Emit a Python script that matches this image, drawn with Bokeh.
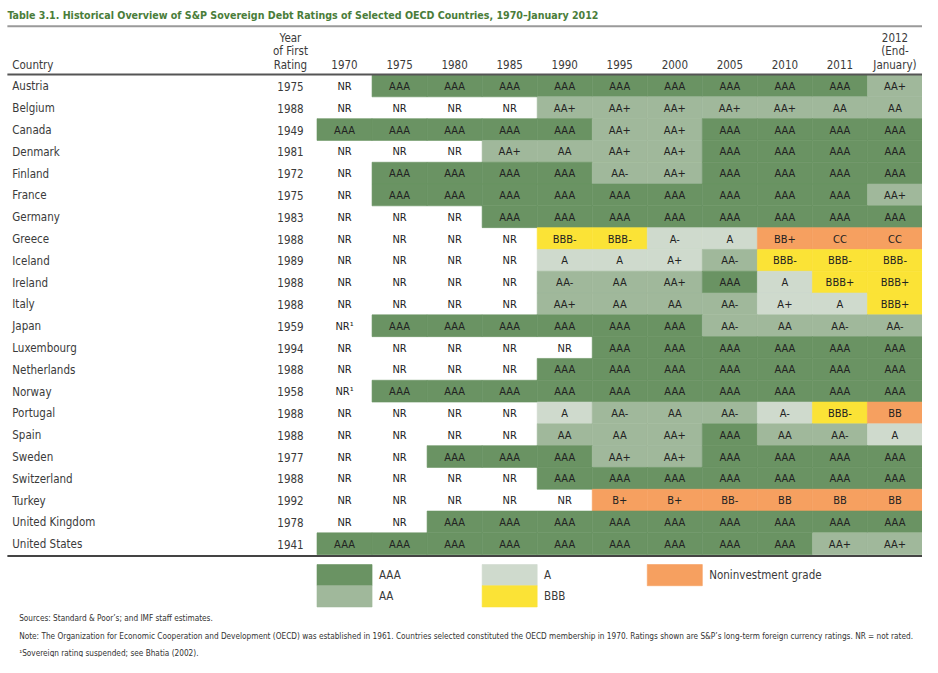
from bokeh.plotting import figure
from bokeh.models import Range1d
from bokeh.embed import file_html
from bokeh.resources import INLINE
from bokeh.core.properties import value

# ---------------- data ----------------
title = "Table 3.1. Historical Overview of S&P Sovereign Debt Ratings of Selected OECD Countries, 1970\u2013January 2012"
years = ["1970", "1975", "1980", "1985", "1990", "1995", "2000", "2005", "2010", "2011"]
countries = ["Austria", "Belgium", "Canada", "Denmark", "Finland", "France", "Germany",
             "Greece", "Iceland", "Ireland", "Italy", "Japan", "Luxembourg", "Netherlands",
             "Norway", "Portugal", "Spain", "Sweden", "Switzerland", "Turkey",
             "United Kingdom", "United States"]
first_rating = ["1975", "1988", "1949", "1981", "1972", "1975", "1983", "1988", "1989", "1988",
                "1988", "1959", "1994", "1988", "1958", "1988", "1988", "1977", "1988", "1992",
                "1978", "1941"]
ratings = [
    ["NR", "AAA", "AAA", "AAA", "AAA", "AAA", "AAA", "AAA", "AAA", "AAA", "AA+"],
    ["NR", "NR", "NR", "NR", "AA+", "AA+", "AA+", "AA+", "AA+", "AA", "AA"],
    ["AAA", "AAA", "AAA", "AAA", "AAA", "AA+", "AA+", "AAA", "AAA", "AAA", "AAA"],
    ["NR", "NR", "NR", "AA+", "AA", "AA+", "AA+", "AAA", "AAA", "AAA", "AAA"],
    ["NR", "AAA", "AAA", "AAA", "AAA", "AA-", "AA+", "AAA", "AAA", "AAA", "AAA"],
    ["NR", "AAA", "AAA", "AAA", "AAA", "AAA", "AAA", "AAA", "AAA", "AAA", "AA+"],
    ["NR", "NR", "NR", "AAA", "AAA", "AAA", "AAA", "AAA", "AAA", "AAA", "AAA"],
    ["NR", "NR", "NR", "NR", "BBB-", "BBB-", "A-", "A", "BB+", "CC", "CC"],
    ["NR", "NR", "NR", "NR", "A", "A", "A+", "AA-", "BBB-", "BBB-", "BBB-"],
    ["NR", "NR", "NR", "NR", "AA-", "AA", "AA+", "AAA", "A", "BBB+", "BBB+"],
    ["NR", "NR", "NR", "NR", "AA+", "AA", "AA", "AA-", "A+", "A", "BBB+"],
    ["NR\u00b9", "AAA", "AAA", "AAA", "AAA", "AAA", "AAA", "AA-", "AA", "AA-", "AA-"],
    ["NR", "NR", "NR", "NR", "NR", "AAA", "AAA", "AAA", "AAA", "AAA", "AAA"],
    ["NR", "NR", "NR", "NR", "AAA", "AAA", "AAA", "AAA", "AAA", "AAA", "AAA"],
    ["NR\u00b9", "AAA", "AAA", "AAA", "AAA", "AAA", "AAA", "AAA", "AAA", "AAA", "AAA"],
    ["NR", "NR", "NR", "NR", "A", "AA-", "AA", "AA-", "A-", "BBB-", "BB"],
    ["NR", "NR", "NR", "NR", "AA", "AA", "AA+", "AAA", "AA", "AA-", "A"],
    ["NR", "NR", "AAA", "AAA", "AAA", "AA+", "AA+", "AAA", "AAA", "AAA", "AAA"],
    ["NR", "NR", "NR", "NR", "AAA", "AAA", "AAA", "AAA", "AAA", "AAA", "AAA"],
    ["NR", "NR", "NR", "NR", "NR", "B+", "B+", "BB-", "BB", "BB", "BB"],
    ["NR", "NR", "AAA", "AAA", "AAA", "AAA", "AAA", "AAA", "AAA", "AAA", "AAA"],
    ["AAA", "AAA", "AAA", "AAA", "AAA", "AAA", "AAA", "AAA", "AAA", "AA+", "AA+"],
]
legend_labels = ["AAA", "AA", "A", "BBB", "Noninvestment grade"]
footnotes = [
    "Sources: Standard & Poor\u2019s; and IMF staff estimates.",
    "Note: The Organization for Economic Cooperation and Development (OECD) was established in 1961. Countries selected constituted the OECD membership in 1970. Ratings shown are S&P\u2019s long-term foreign currency ratings. NR = not rated.",
    "\u00b9Sovereign rating suspended; see Bhatia (2002).",
]

# ---------------- style ----------------
COLORS = {"AAA": "#6a9363", "AA": "#a0b89b", "A": "#cfdacd", "BBB": "#fbe336", "NI": "#f6a060"}
FONT = value("DejaVu Sans Condensed, Roboto")
TXT = "#3a3a3a"
COL0, COLW = 350.0, 56.0       # centre of first rating column, column width
ROW0, ROWH = 86.6, 22.1        # centre of first row, row height


def category(r):
    if r.startswith("NR"):
        return None
    if r.startswith("AAA"):
        return "AAA"
    if r.startswith("AA"):
        return "AA"
    if r.startswith("A"):
        return "A"
    if r.startswith("BBB"):
        return "BBB"
    return "NI"


p = figure(width=922, height=657, x_range=Range1d(0, 938), y_range=Range1d(666, 0),
           output_backend="svg", toolbar_location=None, min_border=0)
p.axis.visible = False
p.grid.visible = False
p.outline_line_color = None
p.background_fill_color = "white"

# cells
cl, cr, ct, cb, cc = [], [], [], [], []
tx, ty, tt = [], [], []
for i, row in enumerate(ratings):
    yc = ROW0 + i * ROWH
    for j, r in enumerate(row):
        xc = COL0 + j * COLW
        tx.append(xc); ty.append(yc + 0.5); tt.append(r)
        c = category(r)
        if c:
            cl.append(xc - COLW / 2); cr.append(xc + COLW / 2)
            ct.append(yc - ROWH / 2); cb.append(yc + ROWH / 2)
            cc.append(COLORS[c])
p.quad(left=cl, right=cr, top=ct, bottom=cb, fill_color=cc, line_color=cc, line_width=0.6)
p.text(x=tx, y=ty, text=tt, text_font=FONT, text_font_size="11px", text_color="#222222",
       text_align="center", text_baseline="middle")

# country names and first-rating years
ys = [ROW0 + i * ROWH + 0.5 for i in range(len(countries))]
p.text(x=[12] * len(countries), y=ys, text=countries, text_font=FONT, text_font_size="11.5px",
       text_color=TXT, text_align="left", text_baseline="middle")
p.text(x=[295] * len(countries), y=ys, text=first_rating, text_font=FONT, text_font_size="11.5px",
       text_color=TXT, text_align="center", text_baseline="middle")

# header
p.text(x=[7], y=[15], text=[title], text_font=FONT, text_font_size="10.6px", text_font_style="bold",
       text_color="#4a7d3a", text_align="left", text_baseline="middle")
p.segment(x0=[7], y0=[26], x1=[938], y1=[26], line_color="#9a9a9a", line_width=2)
p.segment(x0=[7], y0=[75], x1=[938], y1=[75], line_color="#555555", line_width=2)
p.segment(x0=[7], y0=[563], x1=[938], y1=[563], line_color="#444444", line_width=2)
hdr_y = 65
p.text(x=[12], y=[hdr_y], text=["Country"], text_font=FONT, text_font_size="11.5px",
       text_color=TXT, text_align="left", text_baseline="middle")
p.text(x=[295] * 3, y=[38, 51.5, hdr_y], text=["Year", "of First", "Rating"], text_font=FONT,
       text_font_size="11.5px", text_color=TXT, text_align="center", text_baseline="middle")
p.text(x=[COL0 + j * COLW for j in range(len(years))], y=[hdr_y] * len(years), text=years,
       text_font=FONT, text_font_size="11.5px", text_color=TXT, text_align="center",
       text_baseline="middle")
x12 = COL0 + len(years) * COLW
p.text(x=[x12] * 3, y=[38, 51.5, hdr_y], text=["2012", "(End-", "January)"], text_font=FONT,
       text_font_size="11.5px", text_color=TXT, text_align="center", text_baseline="middle")

# legend
leg_col = [0, 0, 3, 3, 6]
leg_row = [0, 1, 0, 1, 0]
leg_cols = [COLORS["AAA"], COLORS["AA"], COLORS["A"], COLORS["BBB"], COLORS["NI"]]
LY0, LH = 582.5, 21.5
lx = [COL0 + c * COLW for c in leg_col]
ly = [LY0 + r * LH for r in leg_row]
p.quad(left=[x - COLW / 2 for x in lx], right=[x + COLW / 2 for x in lx],
       top=[y - LH / 2 for y in ly], bottom=[y + LH / 2 for y in ly],
       fill_color=leg_cols, line_color=leg_cols, line_width=0.6)
p.text(x=[x + COLW / 2 + 7 for x in lx], y=ly, text=legend_labels, text_font=FONT,
       text_font_size="11.5px", text_color=TXT, text_align="left", text_baseline="middle")

# footnotes
p.text(x=[19] * 3, y=[626, 644, 661], text=footnotes, text_font=FONT, text_font_size="8.2px",
       text_color="#333333", text_align="left", text_baseline="middle")

open("out.html", "w").write(file_html(p, INLINE))
